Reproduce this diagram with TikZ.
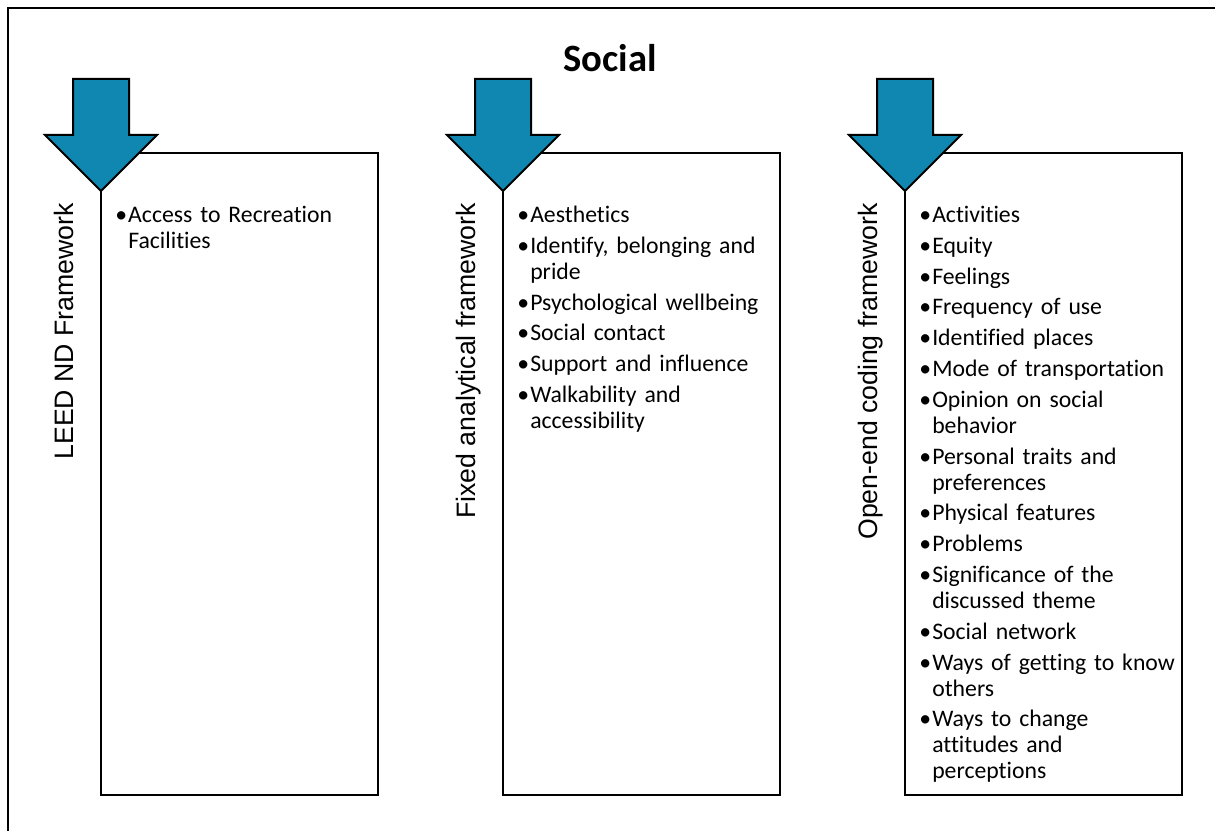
\documentclass[tikz,border=0pt]{standalone}
\usepackage{fontspec}
\setmainfont{Carlito}[Ligatures={NoCommon,TeX}]
\newfontfamily\labelfont{Liberation Sans}
\usepackage{xcolor}
\usepackage{tikz}
\usetikzlibrary{positioning,calc}

\definecolor{arrowteal}{RGB}{16,135,176}
\newcommand{\bitem}[1]{\hangindent=9.75pt\hangafter=1\makebox[9.75pt][l]{\strut\textbullet}#1\par}

\begin{document}
\begin{tikzpicture}[
  x=0.75pt, y=-0.75pt,
  node distance=93.75pt,
  colbox/.style={draw, rectangle, line width=1.6pt, minimum width=207.75pt, minimum height=481.5pt, inner sep=0pt, outer sep=0pt},
  items/.style={anchor=north west, align=left, text width=202pt, inner sep=0pt, font=\fontsize{17.8}{19.5}\selectfont},
  fwlabel/.style={rotate=90, anchor=base east, inner sep=0pt, font=\labelfont\fontsize{20}{24}\selectfont},
  downarr/.style={draw, line width=1.5pt, fill=arrowteal, line join=miter}
]
\path[use as bounding box] (0,0) rectangle (1215,831);
\clip (0,0) rectangle (1215,831);

% outer frame (runs off the page at right and bottom)
\draw[line width=2pt] (8,8) rectangle (1240,860);

\node[font=\fontsize{29}{34}\selectfont\bfseries, anchor=base] (title) at (610,72) {Social};

% the three columns
\node[colbox, anchor=north west] (leed) at (101,153) {};
\node[colbox, right=of leed] (fixed) {};
\node[colbox, right=of fixed] (open) {};

\node[fwlabel] (leedlbl) at ($(leed.north west)+(-28,50)$) {LEED ND Framework};
\node[fwlabel] (fixedlbl) at ($(fixed.north west)+(-28,50)$) {Fixed analytical framework};
\node[fwlabel] (openlbl) at ($(open.north west)+(-28,50)$) {Open-end coding framework};

\node[items] (leeditems) at ($(leed.north west)+(14,51)$) {\setlength{\parskip}{3.6pt}%
\bitem{Access to Recreation\newline Facilities}};
\node[items] (fixeditems) at ($(fixed.north west)+(14,51)$) {\setlength{\parskip}{3.6pt}%
\bitem{Aesthetics}
\bitem{Identify, belonging and\newline pride}
\bitem{Psychological wellbeing}
\bitem{Social contact}
\bitem{Support and influence}
\bitem{Walkability and\newline accessibility}};
\node[items] (openitems) at ($(open.north west)+(14,51)$) {\setlength{\parskip}{3.6pt}%
\bitem{Activities}
\bitem{Equity}
\bitem{Feelings}
\bitem{Frequency of use}
\bitem{Identified places}
\bitem{Mode of transportation}
\bitem{Opinion on social\newline behavior}
\bitem{Personal traits and\newline preferences}
\bitem{Physical features}
\bitem{Problems}
\bitem{Significance of the\newline discussed theme}
\bitem{Social network}
\bitem{Ways of getting to know\newline others}
\bitem{Ways to change\newline attitudes and\newline perceptions}};

% block arrows over the top left corners
\draw[downarr] ($(leed.north west)+(-28,-74)$) -- ++(56,0) -- ++(0,56) -- ++(28,0)
  -- ++(-56,56) -- ++(-56,-56) -- ++(28,0) -- cycle;
\draw[downarr] ($(fixed.north west)+(-28,-74)$) -- ++(56,0) -- ++(0,56) -- ++(28,0)
  -- ++(-56,56) -- ++(-56,-56) -- ++(28,0) -- cycle;
\draw[downarr] ($(open.north west)+(-28,-74)$) -- ++(56,0) -- ++(0,56) -- ++(28,0)
  -- ++(-56,56) -- ++(-56,-56) -- ++(28,0) -- cycle;
\end{tikzpicture}
\end{document}
